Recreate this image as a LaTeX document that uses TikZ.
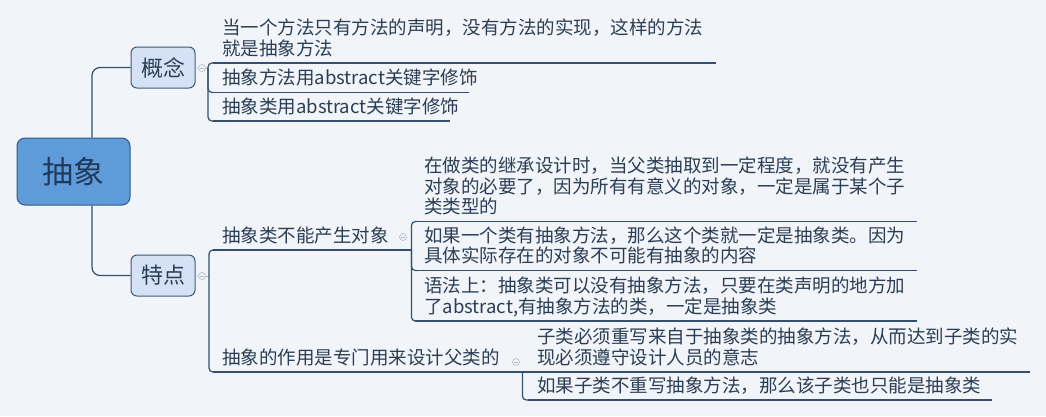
\documentclass[tikz,border=0pt]{standalone}
\usepackage{fontspec}
\setmainfont{Noto Sans CJK SC}
\definecolor{bg}{HTML}{F1F4F8}
\definecolor{ln}{HTML}{34506E}
\definecolor{tx}{HTML}{2C3E55}
\definecolor{rootfill}{HTML}{5F9BD8}
\definecolor{rootdraw}{HTML}{2F5A85}
\definecolor{roottx}{HTML}{1F3A5C}
\definecolor{subfill}{HTML}{D5E2F6}
\definecolor{subdraw}{HTML}{3D5A7A}
\definecolor{mk}{HTML}{AEBBCB}
\newcommand\leaftext[2]{\parbox[b]{#1}{\raggedright #2\rule[-4pt]{0pt}{4pt}}}
\begin{document}
\begin{tikzpicture}[x=1pt,y=-1pt,
  conn/.style={draw=ln, line width=1.2pt, rounded corners=4pt},
  uline/.style={draw=ln, line width=1.2pt},
  leaf/.style={anchor=south west, inner xsep=9pt, inner ysep=3.5pt, text=tx,
    font=\fontsize{18.5}{20.5}\selectfont},
  sub/.style={draw=subdraw, fill=subfill, rounded corners=6pt, line width=1pt,
    minimum width=64pt, minimum height=41pt, inner sep=0pt, text=tx,
    font=\fontsize{22}{22}\selectfont},
  rootbox/.style={draw=rootdraw, fill=rootfill, rounded corners=8pt, line width=1pt,
    minimum width=113pt, minimum height=67pt, inner sep=0pt, text=roottx,
    font=\fontsize{31}{31}\selectfont},
  marker/.style={circle, draw=mk, fill=bg, minimum size=7pt, inner sep=0pt, line width=0.6pt,
    path picture={\draw[mk,line width=0.6pt] ([xshift=-2pt]path picture bounding box.center) -- ([xshift=2pt]path picture bounding box.center);}},
  tick/.style={draw=mk, line width=0.6pt}
]
\fill[bg] (0,0) rectangle (1046,416);
\useasboundingbox (0,0) rectangle (1046,416);

% root and main topics
\node[rootbox] (root) at (73.5,171.5) {抽象};
\node[sub] (gn) at (163,67.5) {概念};
\node[sub] (td) at (163,275.5) {特点};
\draw[conn, rounded corners=8pt] ([xshift=18.5pt]root.north) |- (gn.west);
\draw[conn, rounded corners=8pt] ([xshift=18.5pt]root.south) |- (td.west);

% markers
\node[marker] (m1) at (202,68) {};
\node[marker] (m2) at (202,276) {};
\coordinate (k1) at (208,68);
\coordinate (k2) at (209,276);
\draw[tick] (gn.east) -- (m1.west);
\draw[tick] (m1.east) -- (k1);
\draw[tick] (td.east) -- (m2.west);
\draw[tick] (m2.east) -- (k2);

% 概念 children
\node[leaf] (c1) at (213,63) {\leaftext{485pt}{当一个方法只有方法的声明，没有方法的实现，这样的方法\\就是抽象方法}};
\node[leaf] (c2) at (213,92.5) {\leaftext{238pt}{抽象方法用abstract关键字修饰}};
\node[leaf] (c3) at (213,121) {\leaftext{219pt}{抽象类用abstract关键字修饰}};
\foreach \n in {c1,c2,c3}{
  \draw[uline] (\n.south west) -- (\n.south east);
  \draw[conn] (k1) |- (\n.south west);
}

% 特点 children
\node[leaf] (cA) at (213,250) {\leaftext{180pt}{抽象类不能产生对象}};
\node[leaf] (cB) at (213,372) {\leaftext{291pt}{抽象的作用是专门用来设计父类的}};
\foreach \n in {cA,cB}{
  \draw[uline] (\n.south west) -- (\n.south east);
  \draw[conn] (k2) |- (\n.south west);
}
\node[marker] (mA) at (403,237) {};
\node[marker] (mB) at (516,362) {};

% grandchildren of cA
\node[leaf] (gA1) at (415,221.5) {\leaftext{484pt}{在做类的继承设计时，当父类抽取到一定程度，就没有产生\\对象的必要了，因为所有有意义的对象，一定是属于某个子\\类类型的}};
\node[leaf] (gA2) at (415,270.5) {\leaftext{484pt}{如果一个类有抽象方法，那么这个类就一定是抽象类。因为\\具体实际存在的对象不可能有抽象的内容}};
\node[leaf] (gA3) at (415,321) {\leaftext{484pt}{语法上：抽象类可以没有抽象方法，只要在类声明的地方加\\了abstract,有抽象方法的类，一定是抽象类}};
\foreach \n in {gA1,gA2,gA3}{
  \draw[uline] (\n.south west) -- (\n.south east);
  \draw[conn] (cA.south east) |- (\n.south west);
}

% grandchildren of cB
\node[leaf] (gB1) at (528,372) {\leaftext{484pt}{子类必须重写来自于抽象类的抽象方法，从而达到子类的实\\现必须遵守设计人员的意志}};
\node[leaf] (gB2) at (528,400) {\leaftext{446pt}{如果子类不重写抽象方法，那么该子类也只能是抽象类}};
\draw[uline] (gB1.south west) -- (gB1.south east);
\draw[uline] (gB2.south west) -- (gB2.south east);
\draw[conn] (cB.south east) -- (gB1.south west);
\draw[conn] (cB.south east) |- (gB2.south west);
\end{tikzpicture}
\end{document}
